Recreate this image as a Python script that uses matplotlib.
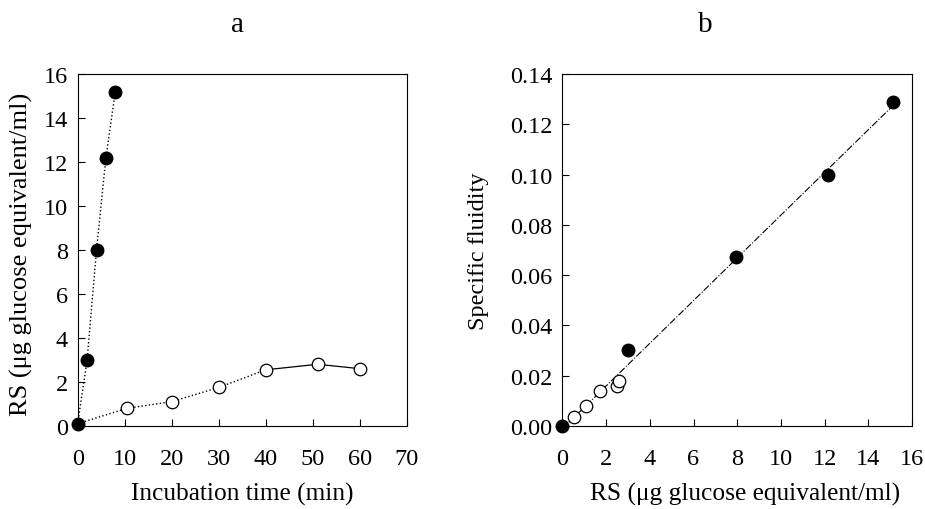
import matplotlib
matplotlib.use("Agg")
import matplotlib.pyplot as plt
import numpy as np

# panel a: RS vs incubation time
time_filled = [0, 2, 4, 6, 8]
rs_filled = [0.1, 3.0, 8.0, 12.2, 15.2]
time_open = [0, 10.5, 20, 30, 40, 51, 60]
rs_open = [0.1, 0.8, 1.1, 1.75, 2.55, 2.8, 2.6]

# panel b: specific fluidity vs RS
rs_b_filled = [0.0, 3.0, 7.95, 12.15, 15.15]
fluid_filled = [0.0, 0.030, 0.067, 0.100, 0.129]
rs_b_open = [0.55, 1.1, 1.7, 2.5, 2.6]
fluid_open = [0.0035, 0.008, 0.014, 0.016, 0.018]

plt.rcParams["font.family"] = ["Liberation Serif", "DejaVu Serif"]

fig = plt.figure(figsize=(9.25, 5.1), dpi=100)
ax_a = fig.add_axes([0.084, 0.163, 0.356, 0.690])
ax_b = fig.add_axes([0.608, 0.163, 0.378, 0.690])

# panel a
ax_a.plot(time_filled, rs_filled, linestyle=":", color="black", linewidth=1,
          marker="o", markersize=9, markerfacecolor="black",
          markeredgecolor="black", clip_on=False, zorder=3)
ax_a.plot(time_open[:5], rs_open[:5], linestyle=":", color="black", linewidth=1,
          clip_on=False, zorder=2)
ax_a.plot(time_open[4:], rs_open[4:], linestyle="-", color="black", linewidth=0.9,
          clip_on=False, zorder=2)
ax_a.plot(time_open[1:], rs_open[1:], linestyle="none", marker="o", markersize=9,
          markerfacecolor="white", markeredgecolor="black", markeredgewidth=0.9,
          clip_on=False, zorder=3)
ax_a.set_xlim(0, 70)
ax_a.set_ylim(0, 16)
ax_a.set_xticks(range(0, 71, 10))
ax_a.set_yticks(range(0, 17, 2))
ax_a.set_xlabel("Incubation time (min)", fontsize=18.3)
ax_a.set_ylabel("RS (μg glucose equivalent/ml)", fontsize=19)
ax_a.xaxis.set_label_coords(0.5, -0.16)
ax_a.yaxis.set_label_coords(-0.135, 0.49)

# panel b
slope, intercept = np.polyfit(rs_b_filled + rs_b_open, fluid_filled + fluid_open, 1)
fit_x = np.array([0.3, max(rs_b_filled)])
ax_b.plot(fit_x, slope * fit_x + intercept, linestyle="-.", color="black",
          linewidth=0.8, zorder=1)
ax_b.plot(rs_b_open, fluid_open, linestyle="none", marker="o", markersize=9,
          markerfacecolor="white", markeredgecolor="black", markeredgewidth=0.9,
          zorder=3)
ax_b.plot(rs_b_filled, fluid_filled, linestyle="none", marker="o", markersize=9,
          markerfacecolor="black", markeredgecolor="black", clip_on=False, zorder=4)
ax_b.set_xlim(0, 16)
ax_b.set_ylim(0, 0.14)
ax_b.set_xticks(range(0, 17, 2))
ax_b.set_yticks(np.arange(0, 0.141, 0.02))
ax_b.set_yticklabels([f"{v:.2f}" for v in np.arange(0, 0.141, 0.02)])
ax_b.set_xlabel("RS (μg glucose equivalent/ml)", fontsize=18.3)
ax_b.set_ylabel("Specific fluidity", fontsize=17.5)
ax_b.xaxis.set_label_coords(0.523, -0.16)
ax_b.yaxis.set_label_coords(-0.209, 0.5)

for ax in (ax_a, ax_b):
    ax.tick_params(direction="in", labelsize=17.5, length=5, width=0.8)
    ax.tick_params(axis="x", pad=16)
    ax.tick_params(axis="y", pad=7)
    for spine in ax.spines.values():
        spine.set_linewidth(0.8)

fig.text(238 / 925, 1 - 25 / 510, "a", fontsize=21, ha="center", va="center")
fig.text(705 / 925, 1 - 25 / 510, "b", fontsize=21, ha="center", va="center")

fig.savefig("out.png", dpi=100)
